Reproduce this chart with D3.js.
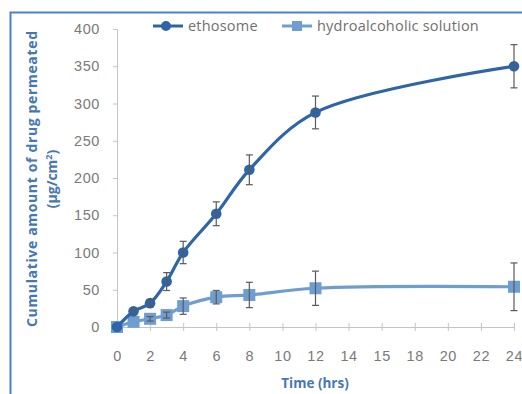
<!DOCTYPE html>
<html>
<head>
<meta charset="utf-8">
<script src="https://cdn.jsdelivr.net/npm/d3@7"></script>
<style>
  body { margin: 0; background: #fff; }
  svg { display: block; font-family: "Open Sans", "Noto Sans", sans-serif; }
</style>
</head>
<body>
<div id="chart"></div>
<script>
// podaci procitani sa slike
var times = [0, 1, 2, 3, 4, 6, 8, 12, 24];
var ethosome = [0, 21, 32, 61, 100, 152, 211, 288, 350];
var ethosomeErr = [1, 3, 5, 12, 15, 16, 20, 22, 29];
var hydro = [0, 7, 11, 16, 28, 40, 43, 52, 54];
var hydroErr = [1, 2, 3, 4, 11, 9, 17, 23, 32];
var xTicks = [0, 2, 4, 6, 8, 10, 12, 14, 16, 18, 20, 22, 24];
var xTickLabels = ["0", "2", "4", "6", "8", "10", "12", "14", "15", "18", "20", "22", "24"];
var yTicks = [0, 50, 100, 150, 200, 250, 300, 350, 400];

function drawChart() {
    var width = 522, height = 394;

    var svg = d3.select("#chart")
        .append("svg")
        .attr("width", width)
        .attr("height", height);

    // okvir
    svg.append("rect")
        .attr("x", 10.5)
        .attr("y", 12.5)
        .attr("width", 530)
        .attr("height", 400)
        .attr("fill", "none")
        .attr("stroke", "#4f7fcf")
        .attr("stroke-width", 2);

    var x = d3.scaleLinear().domain([0, 24]).range([117, 514]);
    var y = d3.scaleLinear().domain([0, 400]).range([327, 29]);

    var axisColor = "#c4c4c4";
    var labelColor = "#7a7a7a";

    // y os
    var yAxis = svg.append("g")
        .attr("transform", "translate(117,0)")
        .call(d3.axisLeft(y).tickValues(yTicks).tickSize(4).tickPadding(13));
    yAxis.select(".domain").attr("stroke", axisColor);
    yAxis.selectAll(".tick line").attr("stroke", axisColor);
    yAxis.selectAll("text")
        .attr("fill", labelColor)
        .style("font-size", "14.5px")
        .style("letter-spacing", "0.6px");

    // x os
    var xAxis = svg.append("g")
        .attr("transform", "translate(0,327)")
        .call(d3.axisBottom(x).tickValues(xTicks)
            .tickFormat(function (d, i) { return xTickLabels[i]; })
            .tickSize(4).tickPadding(20));
    xAxis.select(".domain").attr("stroke", axisColor);
    xAxis.selectAll(".tick line").attr("stroke", axisColor).attr("y1", -4);
    xAxis.selectAll("text")
        .attr("fill", labelColor)
        .style("font-size", "14.5px")
        .style("letter-spacing", "0.6px");

    // naslovi osi
    svg.append("text")
        .attr("x", 315)
        .attr("y", 388)
        .attr("text-anchor", "middle")
        .attr("fill", "#4677b3")
        .style("font-size", "13.5px")
        .style("font-weight", "bold")
        .text("Time (hrs)");

    var yTitle = svg.append("text")
        .attr("transform", "translate(37,179) rotate(-90)")
        .attr("text-anchor", "middle")
        .attr("fill", "#4677b3")
        .style("font-size", "14px")
        .style("font-weight", "bold");
    yTitle.append("tspan")
        .attr("x", 0).attr("y", 0)
        .attr("textLength", 296)
        .attr("lengthAdjust", "spacing")
        .text("Cumulative amount of drug permeated");
    var t2 = yTitle.append("tspan")
        .attr("x", 0).attr("y", 20)
        .text("(\u00b5g/cm");
    t2.append("tspan").attr("dy", -5).style("font-size", "9px").text("2");
    t2.append("tspan").attr("dy", 5).text(")");

    var series = [
        { name: "ethosome", values: ethosome, err: ethosomeErr, color: "#2f64a6", shape: "circle" },
        { name: "hydroalcoholic solution", values: hydro, err: hydroErr, color: "#6f9dd0", shape: "square" }
    ];

    var line = d3.line()
        .x(function (d) { return x(d[0]); })
        .y(function (d) { return y(d[1]); })
        .curve(d3.curveCatmullRom);

    // drugi niz prvo, da ethosome bude iznad
    series.slice().reverse().forEach(function (s) {
        var pts = times.map(function (t, i) { return [t, s.values[i]]; });

        svg.append("path")
            .datum(pts)
            .attr("d", line)
            .attr("fill", "none")
            .attr("stroke", s.color)
            .attr("stroke-width", 3.2);

        var marks = svg.append("g");
        if (s.shape === "circle") {
            marks.selectAll("circle")
                .data(pts)
                .enter()
                .append("circle")
                .attr("cx", function (d) { return x(d[0]); })
                .attr("cy", function (d) { return y(d[1]); })
                .attr("r", 5.3)
                .attr("fill", s.color);
        } else {
            marks.selectAll("rect")
                .data(pts)
                .enter()
                .append("rect")
                .attr("x", function (d) { return x(d[0]) - 6; })
                .attr("y", function (d) { return y(d[1]) - 6; })
                .attr("width", 12)
                .attr("height", 12)
                .attr("fill", s.color);
        }

        // error bars
        var eb = svg.append("g").attr("stroke", "#5a5a5a").attr("stroke-width", 1.2);
        times.forEach(function (t, i) {
            var cx = x(t), top = y(s.values[i] + s.err[i]), bot = y(s.values[i] - s.err[i]);
            if (s.err[i] < 3) return;
            eb.append("line").attr("x1", cx).attr("x2", cx).attr("y1", top).attr("y2", bot);
            eb.append("line").attr("x1", cx - 3.5).attr("x2", cx + 3.5).attr("y1", top).attr("y2", top);
            eb.append("line").attr("x1", cx - 3.5).attr("x2", cx + 3.5).attr("y1", bot).attr("y2", bot);
        });
    });

    // legenda
    var legendX = [153, 282];
    series.forEach(function (s, i) {
        var g = svg.append("g").attr("transform", "translate(" + legendX[i] + ",26)");
        g.append("line")
            .attr("x1", 0).attr("x2", 30)
            .attr("stroke", s.color)
            .attr("stroke-width", 3);
        if (s.shape === "circle") {
            g.append("circle").attr("cx", 13).attr("r", 5).attr("fill", s.color);
        } else {
            g.append("rect").attr("x", 10).attr("y", -5).attr("width", 10).attr("height", 10).attr("fill", s.color);
        }
        g.append("text")
            .attr("x", 35)
            .attr("y", 5)
            .attr("fill", "#707070")
            .style("font-size", "14.5px")
            .style("letter-spacing", "0.2px")
            .text(s.name);
    });
}

drawChart();
</script>
</body>
</html>
